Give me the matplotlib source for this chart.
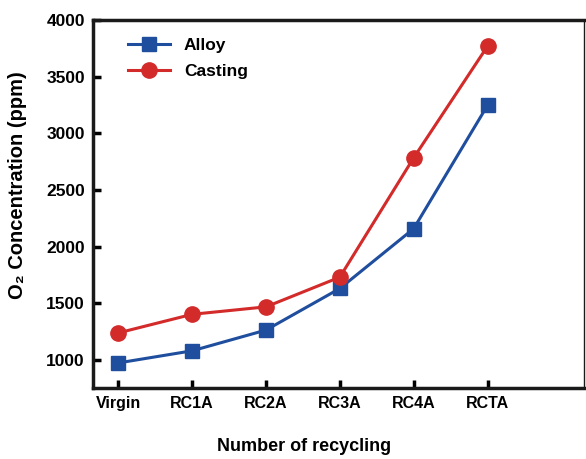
import numpy as np
import matplotlib
matplotlib.use('Agg')
import matplotlib.pyplot as plt

plt.rcParams['font.family'] = ['Liberation Sans', 'DejaVu Sans']
plt.rcParams['font.weight'] = 'bold'

# data
stages = ['Virgin', 'RC1A', 'RC2A', 'RC3A', 'RC4A', 'RCTA']
alloy = [975, 1082, 1265, 1632, 2160, 3248]
casting = [1240, 1404, 1470, 1732, 2785, 3770]

blue = '#1f4e9e'
red = '#d32a2a'

fig = plt.figure(figsize=(5.86, 4.59), dpi=100)
ax = fig.add_axes([0.159, 0.155, 0.838, 0.801])

x = np.arange(len(stages))
ax.plot(x, alloy, color=blue, lw=2.2, marker='s', ms=9.5,
        mfc=blue, mec=blue, label='Alloy')
ax.plot(x, casting, color=red, lw=2.2, marker='o', ms=11,
        mfc=red, mec=red, label='Casting')

ax.set_xlim(-0.34, 6.31)
ax.set_ylim(755, 4000)
ax.set_xticks(x)
ax.set_xticklabels(stages)
ax.set_yticks([1000, 1500, 2000, 2500, 3000, 3500, 4000])

for s in ax.spines.values():
    s.set_linewidth(2.5)
    s.set_color('#1a1a1a')
ax.spines['right'].set_linewidth(1.0)
ax.tick_params(direction='in', length=6, width=2.5, pad=6)
ax.tick_params(axis='x', labelsize=11.5)
ax.tick_params(axis='y', labelsize=12.5)

ax.set_xlabel('Number of recycling', fontsize=13, fontweight='bold')
ax.xaxis.set_label_coords(0.43, -0.137)
ax.set_ylabel('O₂ Concentration (ppm)', fontsize=14.5, fontweight='bold')
ax.yaxis.set_label_coords(-0.135, 0.552)

ax.legend(loc='upper left', frameon=False, fontsize=12.5,
          bbox_to_anchor=(0.04, 0.995), handlelength=2.4, labelspacing=0.65)

fig.savefig('out.png', dpi=100)
